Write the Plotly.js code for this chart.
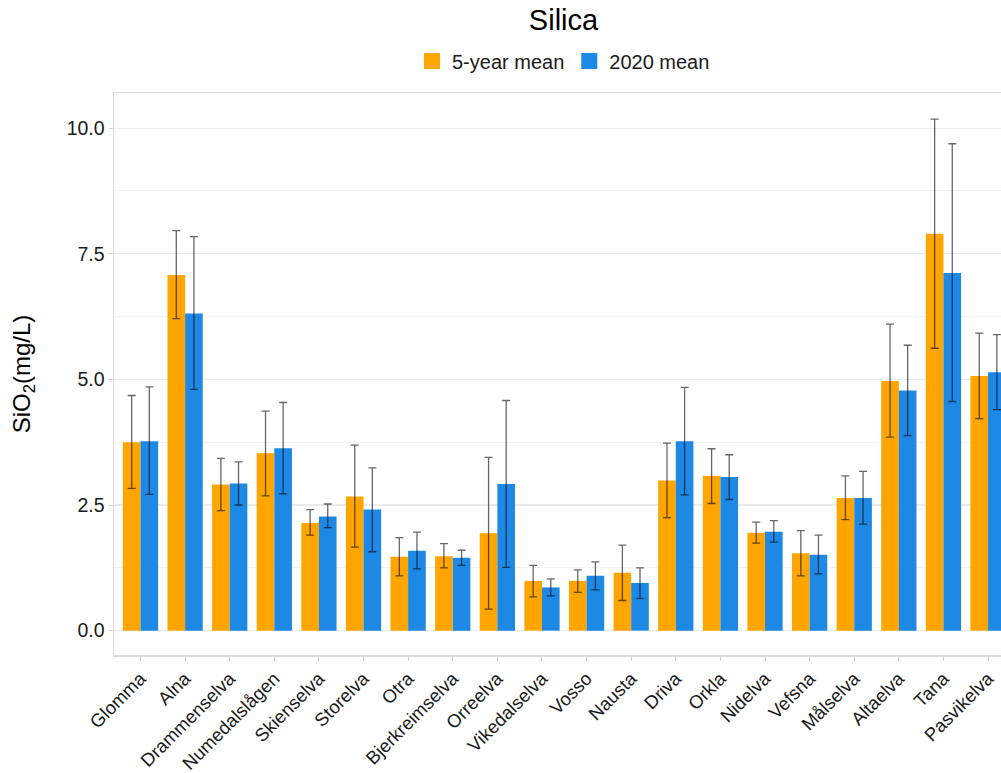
<!DOCTYPE html>
<html>
<head>
<meta charset="utf-8">
<script src="https://cdn.plot.ly/plotly-3.0.1.min.js"></script>
<style>html,body{margin:0;padding:0;background:#fff;}#chart{width:1001px;height:773px;}</style>
</head>
<body>
<div id="chart"></div>
<script>
const rivers = ["Glomma","Alna","Drammenselva","Numedalslågen","Skienselva","Storelva","Otra","Bjerkreimselva","Orreelva","Vikedalselva","Vosso","Nausta","Driva","Orkla","Nidelva","Vefsna","Målselva","Altaelva","Tana","Pasvikelva"];

const mean5 =      [3.75, 7.08, 2.91, 3.53, 2.14, 2.67, 1.47, 1.48, 1.94, 0.99, 0.99, 1.15, 2.99, 3.08, 1.95, 1.54, 2.64, 4.97, 7.90, 5.07];
const mean5Upper = [4.68, 7.96, 3.43, 4.37, 2.41, 3.69, 1.85, 1.73, 3.45, 1.30, 1.21, 1.70, 3.73, 3.62, 2.16, 1.99, 3.08, 6.10, 10.18, 5.92];
const mean5Lower = [2.83, 6.21, 2.39, 2.68, 1.90, 1.66, 1.09, 1.25, 0.43, 0.67, 0.76, 0.60, 2.25, 2.53, 1.74, 1.09, 2.21, 3.85, 5.62, 4.22];

const mean2020 =      [3.77, 6.31, 2.93, 3.63, 2.27, 2.41, 1.59, 1.45, 2.92, 0.86, 1.09, 0.95, 3.77, 3.06, 1.97, 1.51, 2.64, 4.78, 7.12, 5.14];
const mean2020Upper = [4.85, 7.84, 3.36, 4.54, 2.52, 3.24, 1.96, 1.60, 4.58, 1.03, 1.37, 1.25, 4.84, 3.50, 2.19, 1.90, 3.17, 5.68, 9.69, 5.89];
const mean2020Lower = [2.71, 4.80, 2.50, 2.72, 2.05, 1.57, 1.23, 1.30, 1.26, 0.69, 0.81, 0.64, 2.70, 2.61, 1.76, 1.13, 2.12, 3.88, 4.56, 4.40];

const seriesNames = ['5-year mean', '2020 mean'];
const seriesColors = ['#FFA500', '#1E88E5'];
const yTicks = [0, 2.5, 5, 7.5, 10];

function errs(mean, up, lo) {
  return {
    type: 'data', symmetric: false,
    array: up.map((u, i) => u - mean[i]),
    arrayminus: lo.map((l, i) => mean[i] - l),
    color: 'rgba(0,0,0,0.6)', thickness: 1.3, width: 4
  };
}

const traces = [
  { type: 'bar', name: seriesNames[0], x: rivers, y: mean5, showlegend: false,
    marker: { color: seriesColors[0] }, error_y: errs(mean5, mean5Upper, mean5Lower) },
  { type: 'bar', name: seriesNames[1], x: rivers, y: mean2020, showlegend: false,
    marker: { color: seriesColors[1] }, error_y: errs(mean2020, mean2020Upper, mean2020Lower) },
  // legend entries with larger square keys
  { type: 'scatter', mode: 'markers', name: seriesNames[0], x: [null], y: [null],
    marker: { symbol: 'square', size: 20, color: seriesColors[0] }, hoverinfo: 'skip' },
  { type: 'scatter', mode: 'markers', name: seriesNames[1], x: [null], y: [null],
    marker: { symbol: 'square', size: 20, color: seriesColors[1] }, hoverinfo: 'skip' }
];

const layout = {
  width: 1001, height: 773,
  margin: { l: 114, r: 0, t: 93, b: 118 },
  paper_bgcolor: '#fff', plot_bgcolor: '#fff',
  font: { family: 'Liberation Sans, Arial, sans-serif', color: '#1a1a1a' },
  title: { text: 'Silica', x: 0.5 + 6 / 887, xref: 'paper', xanchor: 'center', y: 1 - 20 / 773, yanchor: 'middle', yref: 'container', font: { size: 29, color: '#000' } },
  showlegend: true,
  legend: { orientation: 'h', x: 0.5 + 6 / 887, xanchor: 'center', xref: 'paper', y: 1 + 32 / 562, yanchor: 'middle', font: { size: 20, color: '#1a1a1a' }, traceorder: 'normal', itemwidth: 30, itemsizing: 'trace' },
  barmode: 'group', bargap: 0.21, bargroupgap: 0,
  xaxis: {
    type: 'category', range: [-0.594, 19.29], tickangle: -45, automargin: false,
    tickfont: { size: 18.5, color: '#1a1a1a' },
    ticks: 'outside', ticklen: 4, tickcolor: '#cccccc',
    showline: true, linecolor: '#dcdcdc', linewidth: 1.5, mirror: true,
    showgrid: false
  },
  yaxis: {
    range: [-0.485, 10.70], tickvals: yTicks, tickformat: '.1f', automargin: false,
    tickfont: { size: 19.5, color: '#1a1a1a' },
    ticks: 'outside', ticklen: 4, tickcolor: '#cccccc',
    showline: true, linecolor: '#dcdcdc', linewidth: 1.5,
    showgrid: true, gridcolor: '#ebebeb', gridwidth: 1.2, zeroline: false,
    minor: { dtick: 1.25, tick0: 0, showgrid: true, gridcolor: '#f3f3f3', gridwidth: 1, ticks: '' },
    title: { text: 'SiO<sub>2</sub>(mg/L)', font: { size: 24, color: '#000' }, standoff: 29 }
  }
};

Plotly.newPlot('chart', traces, layout, { displayModeBar: false, staticPlot: true });
</script>
</body>
</html>
